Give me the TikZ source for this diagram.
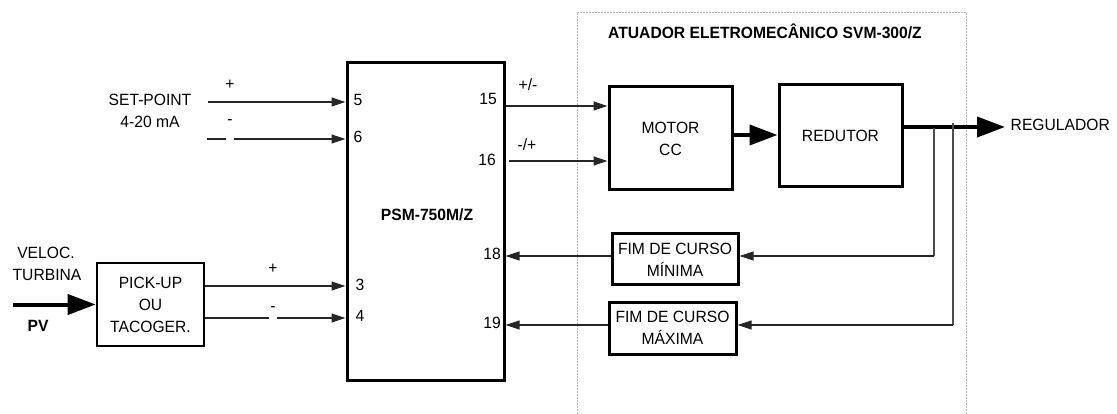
\documentclass[tikz,border=0pt]{standalone}
\usepackage{fontspec}
\setmainfont{Liberation Sans}[FakeStretch=0.96]
\usetikzlibrary{arrows.meta,calc}
\begin{document}
\begin{tikzpicture}[x=1pt,y=-1pt,
  every node/.style={font=\fontsize{16.3}{22}\selectfont},
  lbl/.style={inner sep=0pt, text height=0.72em, text depth=0pt},
  bflbl/.style={lbl, font=\fontsize{16.3}{22}\selectfont\bfseries},
  blk/.style={draw, line width=3pt, inner sep=0pt, align=center},
  thinarr/.style={line width=1.2pt, draw=black!85, -{Triangle[length=14pt,width=9pt]}},
  thickarr/.style={line width=4pt, -{Triangle[length=28pt,width=20pt]}},
  tapline/.style={line width=1.2pt, draw=black!70},
  gaplbl/.style={fill=white, inner xsep=1pt, inner ysep=0pt, text height=0.72em, anchor=base},
  zone/.style={draw=gray!55, line width=0.8pt, dash pattern=on 2pt off 1pt}]
\fill[white] (0,0) rectangle (1117,414);
\useasboundingbox (0,0) rectangle (1117,414);

% actuator zone
\draw[zone] (577,414) -- (577,12) -- (966,12) -- (966,414);
\node[bflbl] (title) at (765,35) {ATUADOR ELETROMEC\^ANICO SVM-300/Z};

% blocks
\node[blk, minimum width=157pt, minimum height=317pt] (psm) at (425.5,221.5) {};
\node[bflbl] (psmlbl) at (427,217) {PSM-750M/Z};
\node[blk, line width=2.6pt, minimum width=107pt, minimum height=83pt] (pick) at (150.5,304.5) {PICK-UP\\OU\\TACOGER.};
\node[blk, minimum width=123pt, minimum height=103pt] (motor) at (670.5,138.5) {MOTOR\\CC};
\node[blk, minimum width=123pt, minimum height=102pt] (redutor) at (840.5,136) {REDUTOR};
\node[blk, minimum width=126pt, minimum height=51pt] (fmin) at (675,259.5) {FIM DE CURSO\\M\'INIMA};
\node[blk, minimum width=127pt, minimum height=52pt] (fmax) at (672.5,328) {FIM DE CURSO\\M\'AXIMA};

% left texts
\node[lbl] (sp) at (150,102) {SET-POINT};
\node[lbl] (ma) at (150,124) {4-20 mA};
\node[lbl] (veloc) at (46,255) {VELOC.};
\node[lbl] (turb) at (47,277) {TURBINA};
\node[bflbl] (pv) at (38,328) {PV};
\node[lbl, anchor=west, inner xsep=5.5pt] (reg) at (1005,127) {REGULADOR};

% row coordinates
\coordinate (r5) at (208,102);
\coordinate (r6) at (207,139);
\coordinate (r15) at (0,106);
\coordinate (r16) at (0,161);
\coordinate (r18) at (0,256);
\coordinate (r19) at (0,325);
\coordinate (rout) at (0,127);
\coordinate (rred) at (0,135);
\coordinate (pv0) at (13,304.5);
\coordinate (t1) at (934,128);
\coordinate (t2) at (953,123);
\path (pick.east) ++(0,-18.5) coordinate (p3);
\path (pick.east) ++(0,13.5) coordinate (p4);

% connectors
\draw[thinarr] (r5) -- (r5 -| psm.west);
\draw[thinarr] (r6) -- (r6 -| psm.west);
\draw[thinarr] (p3) -- (p3 -| psm.west);
\draw[thinarr] (p4) -- (p4 -| psm.west);
\draw[thickarr] (pv0) -- (pick.west);
\draw[thinarr] (psm.east |- r15) -- (motor.west |- r15);
\draw[thinarr] ([xshift=3pt]psm.east |- r16) -- (motor.west |- r16);
\draw[thickarr] (motor.east |- rred) -- (redutor.west |- rred);
\draw[thickarr] (redutor.east |- rout) -- (reg.west);
\draw[tapline] (t1) -- (t1 |- r18);
\draw[thinarr] (t1 |- r18) -- (fmin.east |- r18);
\draw[tapline] (t2) -- (t2 |- r19);
\draw[thinarr] (t2 |- r19) -- (fmax.east |- r19);
\draw[thinarr] (fmin.west |- r18) -- (psm.east |- r18);
\draw[thinarr] (fmax.west |- r19) -- (psm.east |- r19);

% sign labels
\node[lbl] (plus5) at (230,86) {+};
\node[gaplbl, text depth=16pt] (minus6) at (230,124.5) {-};
\node[lbl] (plus3) at (273,270) {+};
\node[gaplbl, text depth=9pt] (minus4) at (273,311.5) {-};
\node[lbl] (pm15) at (528,87) {+/-};
\node[lbl] (mp16) at (527,147) {-/+};

% pin numbers
\node[lbl] (n5) at (358,102) {5};
\node[lbl] (n6) at (358,139) {6};
\node[lbl] (n3) at (360,287) {3};
\node[lbl] (n4) at (360,318) {4};
\node[lbl] (n15) at (488,101) {15};
\node[lbl] (n16) at (487,162) {16};
\node[lbl] (n18) at (492,256) {18};
\node[lbl] (n19) at (492,325) {19};
\end{tikzpicture}
\end{document}
